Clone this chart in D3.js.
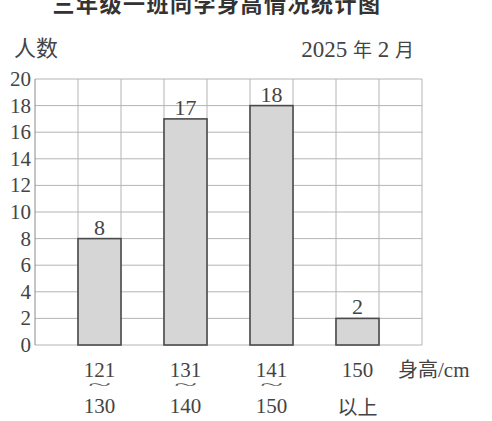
<!DOCTYPE html>
<html>
<head>
<meta charset="utf-8">
<script src="https://cdn.jsdelivr.net/npm/d3@7"></script>
<style>
  body { margin: 0; background: #fff; }
  svg { display: block; }
</style>
</head>
<body>
<div id="chart"></div>
<script>
// data
const ranges = ["121", "131", "141", "150"];
const rangesEnd = ["130", "140", "150", "以上"];
const counts = [8, 17, 18, 2];
const yTicks = [0, 2, 4, 6, 8, 10, 12, 14, 16, 18, 20];

const cjk = "'Noto Sans CJK SC', sans-serif";
const serif = "'Liberation Serif', 'DejaVu Serif', serif";

const W = 492, H = 421;
const svg = d3.select("#chart").append("svg")
    .attr("width", W)
    .attr("height", H);

// 9 grid columns, bars sit in the odd ones
const x = d3.scaleLinear().domain([0, 9]).range([35, 422]);
const y = d3.scaleLinear().domain([0, 20]).range([345, 79]);

// title (cut off at the top like the scan)
svg.append("text")
    .attr("x", 217).attr("y", 12)
    .attr("text-anchor", "middle")
    .attr("font-family", cjk)
    .attr("font-weight", "bold")
    .attr("font-size", 22)
    .attr("letter-spacing", 1.5)
    .attr("fill", "#333")
    .text("三年级一班同学身高情况统计图");

svg.append("text")
    .attr("x", 14).attr("y", 56)
    .attr("font-family", cjk)
    .attr("font-size", 22)
    .attr("fill", "#444")
    .text("人数");

svg.append("text")
    .attr("x", 414).attr("y", 57)
    .attr("text-anchor", "end")
    .attr("font-family", serif)
    .attr("font-size", 23)
    .attr("fill", "#444")
    .html("2025 <tspan font-family=\"'Noto Sans CJK SC'\" font-size='19'>年</tspan> 2 <tspan font-family=\"'Noto Sans CJK SC'\" font-size='19'>月</tspan>");

// grid
const grid = svg.append("g");
grid.selectAll(".hgrid")
    .data(yTicks)
    .enter().append("line")
    .attr("class", "hgrid")
    .attr("x1", x(0)).attr("x2", x(9))
    .attr("y1", d => y(d)).attr("y2", d => y(d))
    .attr("stroke", "#b4b4b4")
    .attr("stroke-width", 1);

grid.selectAll(".vgrid")
    .data(d3.range(10))
    .enter().append("line")
    .attr("class", "vgrid")
    .attr("x1", d => x(d)).attr("x2", d => x(d))
    .attr("y1", y(20)).attr("y2", y(0))
    .attr("stroke", d => d === 0 ? "#8a8a8a" : "#b4b4b4")
    .attr("stroke-width", 1);

// y tick labels
svg.selectAll(".ytick")
    .data(yTicks)
    .enter().append("text")
    .attr("class", "ytick")
    .attr("x", 31)
    .attr("y", d => y(d) + 7)
    .attr("text-anchor", "end")
    .attr("font-family", serif)
    .attr("font-size", 21)
    .attr("fill", "#444")
    .text(d => d);

// bars
svg.selectAll(".bar")
    .data(counts)
    .enter().append("rect")
    .attr("class", "bar")
    .attr("x", (d, i) => x(2 * i + 1))
    .attr("y", d => y(d))
    .attr("width", x(2) - x(1))
    .attr("height", d => y(0) - y(d))
    .attr("fill", "#d6d6d6")
    .attr("stroke", "#4a4a4a")
    .attr("stroke-width", 1.6);

svg.selectAll(".val")
    .data(counts)
    .enter().append("text")
    .attr("class", "val")
    .attr("x", (d, i) => x(2 * i + 1.5))
    .attr("y", d => y(d) - 4)
    .attr("text-anchor", "middle")
    .attr("font-family", serif)
    .attr("font-size", 22)
    .attr("fill", "#444")
    .text(d => d);

// x labels
const xl = svg.selectAll(".xlab")
    .data(ranges)
    .enter().append("g")
    .attr("class", "xlab")
    .attr("transform", (d, i) => "translate(" + x(2 * i + 1.5) + ",0)");

xl.append("text")
    .attr("y", 377)
    .attr("text-anchor", "middle")
    .attr("font-family", serif)
    .attr("font-size", 21)
    .attr("fill", "#444")
    .text(d => d);

// wide thin tilde between the range ends
xl.filter((d, i) => i < 3).append("text")
    .attr("transform", "translate(0,390) scale(2.8,1)")
    .attr("text-anchor", "middle")
    .attr("font-family", serif)
    .attr("font-size", 15)
    .attr("fill", "#555")
    .text("~");

xl.append("text")
    .attr("y", (d, i) => i < 3 ? 413 : 415)
    .attr("text-anchor", "middle")
    .attr("font-family", (d, i) => i < 3 ? serif : cjk)
    .attr("font-size", (d, i) => i < 3 ? 21 : 20)
    .attr("fill", "#444")
    .text((d, i) => rangesEnd[i]);

svg.append("text")
    .attr("x", 398).attr("y", 377)
    .attr("font-family", cjk)
    .attr("font-size", 20)
    .attr("fill", "#444")
    .html("身高<tspan font-family=\"'Liberation Serif', serif\" font-size='21'>/cm</tspan>");
</script>
</body>
</html>
